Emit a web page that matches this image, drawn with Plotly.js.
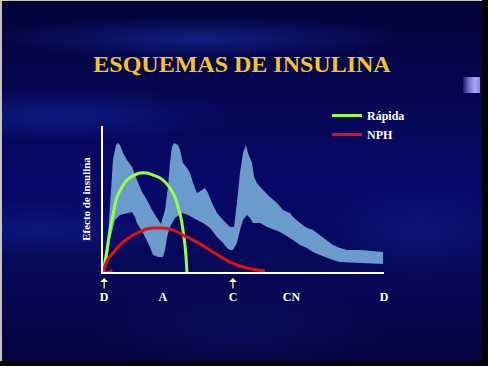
<!DOCTYPE html>
<html>
<head>
<meta charset="utf-8">
<script src="https://cdn.plot.ly/plotly-3.0.1.min.js"></script>
<style>
  html, body { margin: 0; padding: 0; width: 488px; height: 366px; overflow: hidden; background: #04043a; }
  #bg {
    position: absolute; left: 0; top: 0; width: 488px; height: 366px;
    background:
      radial-gradient(ellipse 260px 40px at 60px 115px, rgba(20,40,160,0.55), rgba(0,0,0,0) 70%),
      radial-gradient(ellipse 300px 30px at 200px 38px, rgba(25,45,170,0.6), rgba(0,0,0,0) 70%),
      radial-gradient(ellipse 200px 40px at 40px 230px, rgba(20,40,150,0.45), rgba(0,0,0,0) 70%),
      radial-gradient(ellipse 160px 70px at 420px 230px, rgba(20,35,140,0.45), rgba(0,0,0,0) 70%),
      radial-gradient(ellipse 220px 60px at 240px 330px, rgba(15,25,120,0.35), rgba(0,0,0,0) 70%),
      linear-gradient(180deg, #03033a 0%, #050650 25%, #07096a 50%, #060858 75%, #04043e 100%);
  }
  #plot { position: absolute; left: 0; top: 0; width: 488px; height: 366px; }
  .edge { position: absolute; pointer-events: none; }
  #sq {
    position: absolute; left: 463px; top: 77px; width: 17px; height: 16px;
    background: linear-gradient(90deg, #1a1a60 0%, #7070d0 35%, #a8a8f8 70%, #8888e0 100%);
  }
</style>
</head>
<body>
<div id="bg"></div>
<div id="sq"></div>
<div id="plot"></div>
<div class="edge" style="left:0;top:0;width:488px;height:1px;background:#c8c4b4"></div>
<div class="edge" style="left:0;top:0;width:2px;height:366px;background:#c8c4b4"></div>
<div class="edge" style="left:482px;top:0;width:6px;height:366px;background:#030303"></div>
<div class="edge" style="left:0;top:361px;width:488px;height:5px;background:#030303"></div>
<script>
// Time of day (hours after breakfast) and relative insulin effect (0-100)
const bandUpperX = [0.26, 0.60, 0.85, 1.11, 1.28, 1.45, 1.71, 2.05, 2.48, 2.90, 3.33, 3.76, 4.19, 4.61, 4.95,
  5.30, 5.55, 5.72, 5.89, 6.06, 6.41, 6.58, 6.83, 7.17, 7.43, 7.69, 8.03, 8.46, 8.71, 8.97, 9.31, 9.74,
  10.25, 10.85, 11.19, 11.44, 11.70, 11.96, 12.21, 12.38, 12.73, 12.90, 13.15, 13.67, 14.26, 14.86, 15.37,
  15.97, 16.23, 16.83, 17.42, 17.94, 18.53, 19.13, 19.64, 20.24, 20.84, 21.95, 23.40, 23.92];
const bandUpperY = [2.7, 49.3, 76.7, 87.0, 88.4, 87.0, 81.5, 76.7, 71.9, 63.0, 54.8, 49.3, 42.5, 37.0, 32.9,
  42.5, 58.2, 74.7, 85.6, 88.4, 87.0, 83.6, 74.7, 71.2, 67.8, 61.0, 54.1, 56.2, 57.5, 54.1, 47.3, 40.4,
  35.6, 30.8, 30.8, 47.3, 67.8, 81.5, 87.0, 81.5, 74.7, 65.1, 61.0, 56.2, 51.4, 47.3, 42.5,
  40.4, 37.7, 33.6, 30.1, 28.8, 25.3, 21.9, 18.5, 16.4, 15.1, 15.1, 13.7, 13.7];
const bandLowerX = [0.26, 0.60, 1.02, 1.45, 2.05, 2.48, 2.73, 2.90, 3.42, 4.01, 4.27, 4.70, 5.12, 5.30, 5.47,
  5.72, 6.15, 6.75, 7.26, 7.69, 8.03, 8.54, 9.14, 9.74, 10.25, 10.59, 10.85, 11.10, 11.44, 11.70, 11.96,
  12.30, 12.56, 12.81, 13.41, 14.01, 15.12, 16.23, 16.83, 17.42, 17.94, 18.53, 19.13, 19.64, 20.24, 21.69, 23.92];
const bandLowerY = [1.4, 21.9, 35.6, 39.0, 40.4, 41.1, 37.7, 33.6, 26.7, 17.1, 11.6, 10.3, 10.3, 15.1, 24.0,
  30.8, 37.0, 40.4, 39.0, 37.0, 35.6, 33.6, 30.1, 24.0, 19.9, 16.4, 15.1, 15.1, 19.9, 28.8, 35.6,
  39.0, 37.0, 33.6, 33.6, 30.8, 27.4, 21.9, 18.5, 16.4, 13.7, 11.6, 9.6, 8.2, 6.8, 6.2, 5.5];

const rapidaX = [0, 0.17, 0.34, 0.60, 0.85, 1.20, 1.62, 2.05, 2.56, 3.16, 3.76, 4.27, 4.87, 5.30, 5.72,
  6.15, 6.41, 6.66, 6.83, 7.00, 7.09, 7.17];
const rapidaY = [0, 6.8, 15.1, 28.8, 39.0, 51.4, 58.2, 63.0, 65.8, 67.8, 67.8, 66.4, 64.4, 61.6, 57.5,
  51.4, 44.5, 37.0, 28.8, 18.5, 10.3, 0];

const nphX = [0.8, 0, 0.17, 0.43, 0.85, 1.28, 1.71, 2.31, 2.90, 3.76, 4.44, 5.04, 5.98, 6.83, 8.03,
  9.40, 10.85, 12.30, 13.84];
const nphY = [0.7, 0, 4.1, 8.9, 13.0, 17.1, 20.5, 24.0, 26.7, 29.5, 30.1, 30.1, 28.8, 25.3, 20.5,
  13.7, 6.8, 2.7, 0.7];

const tickVals = [0.1, 5.1, 11.1, 16.1, 24];
const tickText = ['D', 'A', 'C', 'CN', 'D'];
const arrowX = [0.1, 11.1];

const bandX = bandUpperX.concat(bandLowerX.slice().reverse());
const bandY = bandUpperY.concat(bandLowerY.slice().reverse());

const serif = 'Liberation Serif, Times New Roman, serif';

const traces = [
  { x: bandX, y: bandY, type: 'scatter', mode: 'lines', fill: 'toself',
    fillcolor: '#6a9bcc', line: { width: 0, color: '#6a9bcc' }, showlegend: false, hoverinfo: 'skip' },
  { x: rapidaX, y: rapidaY, type: 'scatter', mode: 'lines', name: 'Rápida',
    line: { color: '#99ff44', width: 3, shape: 'spline', smoothing: 1 } },
  { x: nphX, y: nphY, type: 'scatter', mode: 'lines', name: 'NPH',
    line: { color: '#e01010', width: 3, shape: 'spline', smoothing: 1 } }
];

const annotations = arrowX.map(function (ax) {
  return { x: ax, xref: 'x', y: 1 - 278 / 366, yref: 'paper', text: '', showarrow: true,
    ax: 0, ay: 12, arrowcolor: '#ffff88', arrowwidth: 1.3, arrowhead: 1, arrowsize: 1 };
});

const layout = {
  width: 488, height: 366,
  margin: { l: 0, r: 0, t: 0, b: 0 },
  paper_bgcolor: 'rgba(0,0,0,0)',
  plot_bgcolor: 'rgba(0,0,0,0)',
  title: { text: 'ESQUEMAS DE INSULINA', x: 242 / 488, xanchor: 'center', y: 1 - 64 / 366, yanchor: 'middle',
    yref: 'container', font: { family: serif, size: 24, color: '#f2c230', weight: 'bold' } },
  xaxis: {
    domain: [103 / 488, 384 / 488], range: [0, 24], showgrid: false, zeroline: false,
    showline: true, linecolor: '#ffffff', linewidth: 2,
    tickmode: 'array', tickvals: tickVals, ticktext: tickText,
    ticks: 'outside', ticklen: 13, tickcolor: 'rgba(0,0,0,0)',
    tickfont: { family: serif, size: 12, color: '#ffffff', weight: 'bold' }
  },
  yaxis: {
    domain: [1 - 272 / 366, 1 - 126 / 366], range: [0, 100], showgrid: false, zeroline: false,
    showline: true, linecolor: '#ffffff', linewidth: 2, showticklabels: false, ticks: '',
    title: { text: 'Efecto de insulina', standoff: 8,
      font: { family: serif, size: 11, color: '#ffffff', weight: 'bold' } }
  },
  legend: { x: 327 / 488, xanchor: 'left', y: 1 - 101 / 366, yanchor: 'top',
    bgcolor: 'rgba(0,0,0,0)', itemwidth: 30, tracegroupgap: 0,
    font: { family: serif, size: 12, color: '#ffffff', weight: 'bold' } },
  annotations: annotations,
  showlegend: true
};

Plotly.newPlot('plot', traces, layout, { staticPlot: true, displayModeBar: false });
</script>
</body>
</html>
